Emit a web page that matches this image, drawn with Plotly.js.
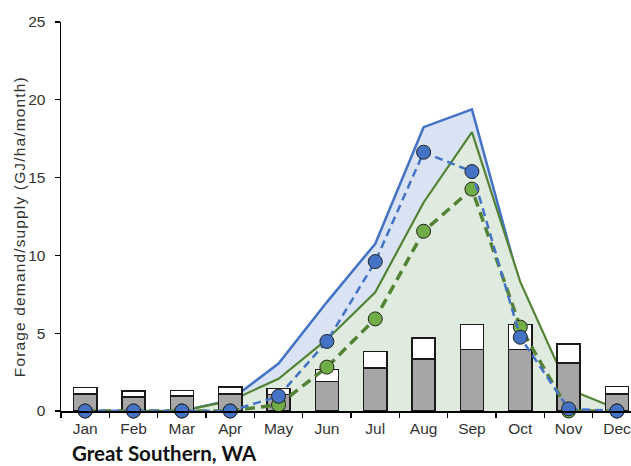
<!DOCTYPE html>
<html>
<head>
<meta charset="utf-8">
<script src="https://cdn.plot.ly/plotly-3.0.1.min.js"></script>
<style>html,body{margin:0;padding:0;background:#fff;}#chart{width:631px;height:466px;}</style>
</head>
<body>
<div id="chart"></div>
<script>
var months = ['Jan','Feb','Mar','Apr','May','Jun','Jul','Aug','Sep','Oct','Nov','Dec'];
// solid lines (areas)
var supplyHigh = [0, 0, 0, 0.7, 3.05, 7.0, 10.75, 18.24, 19.38, 8.0, 1.0, 0];
var supplyLow  = [0, 0, 0, 0.65, 2.07, 4.6, 7.63, 13.4, 17.92, 8.3, 1.4, 0.15];
// stacked bars
var demandBase  = [1.1, 0.89, 0.95, 1.1, 1.06, 1.9, 2.75, 3.35, 3.95, 3.95, 3.1, 1.1];
var demandExtra = [0.41, 0.38, 0.37, 0.45, 0.39, 0.77, 1.09, 1.33, 1.61, 1.61, 1.22, 0.47];
// dashed lines with dots
var blueDots  = [0, 0, 0, 0, 0.95, 4.47, 9.6, 16.63, 15.39, 4.74, 0.14, 0];
var greenDots = [0, 0, 0, 0, 0.4, 2.82, 5.92, 11.55, 14.26, 5.39, 0, 0];
var yTicks = [0, 5, 10, 15, 20, 25];

var BLUE = '#4472c4', GREEN = '#548235', GREENDOT = '#70ad47';

var data = [
  {type:'scatter', x:months, y:supplyHigh, mode:'lines', fill:'tozeroy',
   fillcolor:'#dae3f3', line:{color:BLUE, width:2.5}, xaxis:'x', yaxis:'y', hoverinfo:'skip'},
  {type:'scatter', x:months, y:supplyLow, mode:'lines', fill:'tozeroy',
   fillcolor:'#e0ebe0', line:{color:GREEN, width:2.2}, xaxis:'x', yaxis:'y', hoverinfo:'skip'},
  {type:'bar', x:months, y:demandBase, width:0.48, marker:{color:'#a6a6a6', line:{color:'#1a1a1a', width:1.5}},
   xaxis:'x2', yaxis:'y2'},
  {type:'bar', x:months, y:demandExtra, width:0.48, marker:{color:'#ffffff', line:{color:'#1a1a1a', width:1.5}},
   xaxis:'x2', yaxis:'y2'},
  {type:'scatter', x:months, y:greenDots, mode:'lines+markers', cliponaxis:false,
   line:{color:GREEN, width:3.5, dash:'10px,6px'},
   marker:{size:14, color:GREENDOT, line:{color:'#222', width:1}}, xaxis:'x2', yaxis:'y2'},
  {type:'scatter', x:months, y:blueDots, mode:'lines+markers', cliponaxis:false,
   line:{color:BLUE, width:2.5, dash:'8px,5px'},
   marker:{size:14, color:BLUE, line:{color:'#222', width:1}}, xaxis:'x2', yaxis:'y2'}
];

var xr = [-0.5, 11.29];
var layout = {
  width:631, height:466,
  margin:{l:61, r:0, t:22, b:55},
  paper_bgcolor:'#fff', plot_bgcolor:'#fff',
  showlegend:false, barmode:'stack',
  font:{family:'"Liberation Sans", Arial, sans-serif', size:15.5, color:'#333'},
  xaxis:{type:'category', range:xr, showline:true, linecolor:'#000', linewidth:1.5,
    ticks:'outside', tickson:'boundaries', ticklen:5, tickcolor:'#000', tickwidth:1.3,
    ticklabelstandoff:3,
    showgrid:false, zeroline:false, fixedrange:true, tickfont:{size:15.5, color:'#333'}},
  yaxis:{range:[0,25], tickvals:yTicks, showline:true, linecolor:'#000', linewidth:1.5,
    ticks:'outside', ticklen:5, tickcolor:'#000', tickwidth:1.3, ticklabelstandoff:6,
    showgrid:false, zeroline:false, fixedrange:true, tickfont:{size:15.5, color:'#333'}},
  xaxis2:{type:'category', overlaying:'x', range:xr, visible:false, fixedrange:true},
  yaxis2:{overlaying:'y', range:[0,25], visible:false, fixedrange:true},
  annotations:[
    {text:'Forage demand/supply (GJ/ha/month)', xref:'paper', yref:'paper',
     x:-0.0719, y:0.474, xanchor:'center', yanchor:'middle', textangle:-90, showarrow:false,
     font:{family:'"Liberation Sans", Arial, sans-serif', size:15.5, color:'#333'}},
    {text:'<b>Great Southern, WA</b>', xref:'paper', yref:'paper',
     x:0.018, y:-0.108, xanchor:'left', yanchor:'middle', showarrow:false, borderpad:0,
     font:{family:'Lato, "Open Sans", sans-serif', size:20.5, color:'#111'}}]
};

Plotly.newPlot('chart', data, layout, {displayModeBar:false, staticPlot:true}).then(function(){
  var t = document.querySelectorAll('.annotation-text');
  if (t.length) { t[0].style.letterSpacing = '1.15px'; }
});
</script>
</body>
</html>
